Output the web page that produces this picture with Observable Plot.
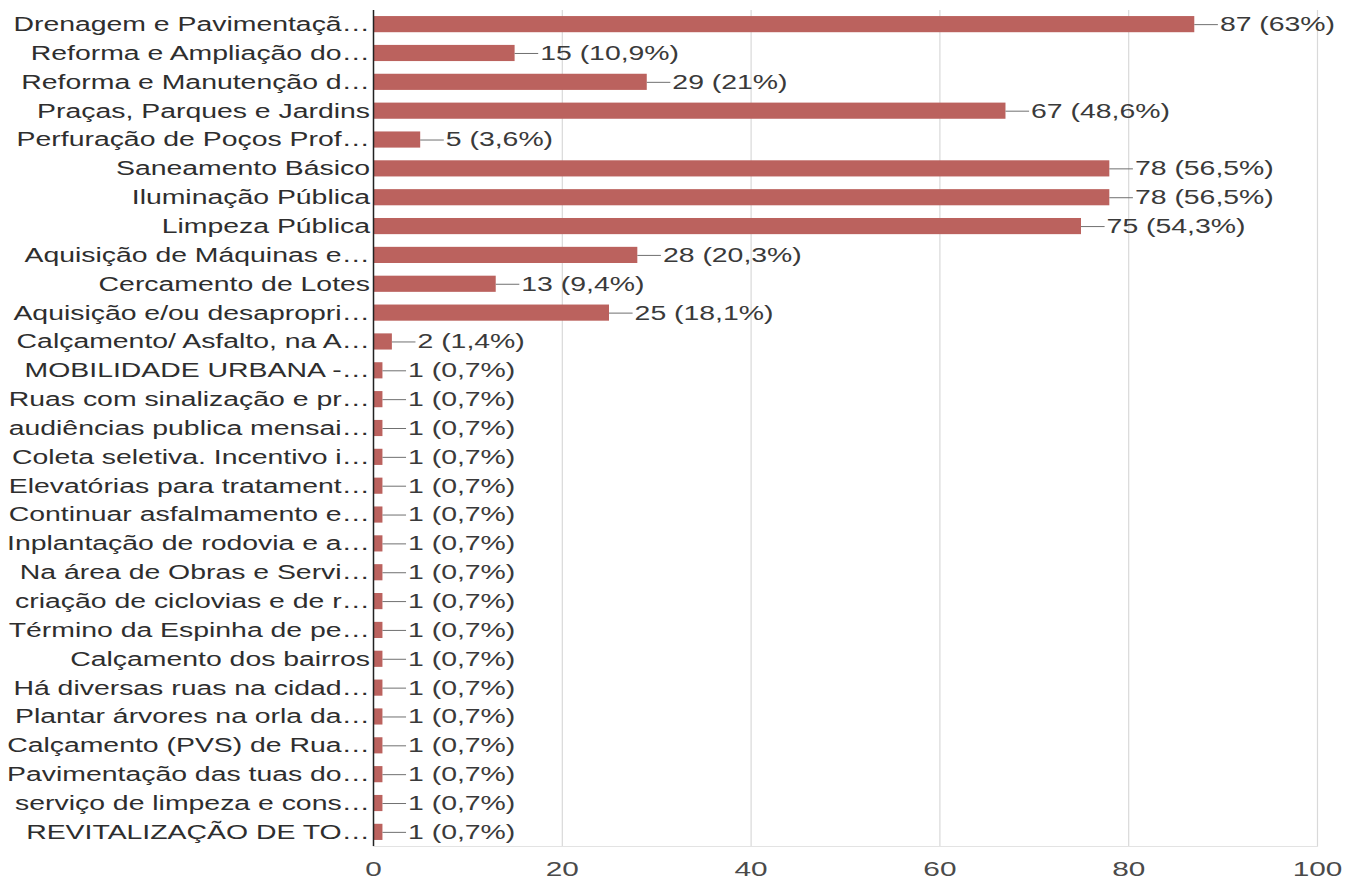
<!DOCTYPE html>
<html><head><meta charset="utf-8">
<script src="https://cdn.jsdelivr.net/npm/d3@7"></script>
<script src="https://cdn.jsdelivr.net/npm/@observablehq/plot@0.6"></script>
<style>body{margin:0;background:#fff;font-family:"Liberation Sans",Arial,sans-serif}</style>
</head><body><div id="chart"></div>
<script>
const categories = [
  "Drenagem e Pavimentaçã…","Reforma e Ampliação do…","Reforma e Manutenção d…","Praças, Parques e Jardins",
  "Perfuração de Poços Prof…","Saneamento Básico","Iluminação Pública","Limpeza Pública",
  "Aquisição de Máquinas e…","Cercamento de Lotes","Aquisição e/ou desapropri…","Calçamento/ Asfalto, na A…",
  "MOBILIDADE URBANA -…","Ruas com sinalização e pr…","audiências publica mensai…","Coleta seletiva. Incentivo i…",
  "Elevatórias para tratament…","Continuar asfalmamento e…","Inplantação de rodovia e a…","Na área de Obras e Servi…",
  "criação de ciclovias e de r…","Término da Espinha de pe…","Calçamento dos bairros","Há diversas ruas na cidad…",
  "Plantar árvores na orla da…","Calçamento (PVS) de Rua…","Pavimentação das tuas do…","serviço de limpeza e cons…",
  "REVITALIZAÇÃO DE TO…"
];
const counts = [87,15,29,67,5,78,78,75,28,13,25,2,1,1,1,1,1,1,1,1,1,1,1,1,1,1,1,1,1];
const percents = ["63%","10,9%","21%","48,6%","3,6%","56,5%","56,5%","54,3%","20,3%","9,4%","18,1%","1,4%",
  "0,7%","0,7%","0,7%","0,7%","0,7%","0,7%","0,7%","0,7%","0,7%","0,7%","0,7%","0,7%","0,7%","0,7%","0,7%","0,7%","0,7%"];
const xTicks = [0,20,40,60,80,100];

const data = categories.map((c,i)=>({cat:c, v:counts[i], label:`${counts[i]} (${percents[i]})`}));
const leader = 2.5;
const stretch = 1.42;

const chart = Plot.plot({
  width: 1348, height: 884,
  marginLeft: 373, marginRight: 31, marginTop: 10, marginBottom: 38,
  style: {fontFamily: '"Liberation Sans", Arial, sans-serif', background: "#fff"},
  x: {domain: [0,100], ticks: xTicks},
  y: {domain: categories, paddingInner: 0.44, paddingOuter: 0.21, align: 0.5, round: false},
  marks: [
    Plot.gridX(xTicks.slice(1), {stroke: "#d9d9d9", strokeOpacity: 1, strokeWidth: 1.2}),
    Plot.frame({anchor: "bottom", stroke: "#e3e3e3", strokeWidth: 1.2}),
    Plot.barX(data, {y: "cat", x: "v", fill: "#bb625e"}),
    Plot.ruleY(data, {y: "cat", x1: "v", x2: d => d.v + leader, stroke: "#707070", strokeWidth: 1}),
    Plot.text(data, {y: "cat", x: d => d.v + leader, text: "label", textAnchor: "start", dx: 1.5, fontSize: 20, fill: "#3a3a3a"}),
    Plot.ruleX([0], {stroke: "#222", strokeWidth: 1.5}),
    Plot.axisY({tickSize: 0, tickPadding: 3.5, fontSize: 20, fill: "#2e2e2e", label: null}),
    Plot.axisX({ticks: xTicks, tickSize: 0, tickPadding: 15, fontSize: 21, fill: "#4a4a4a", label: null})
  ]
});
chart.querySelectorAll("text").forEach(t => {
  const tr = t.getAttribute("transform");
  if (tr) t.setAttribute("transform", tr + ` scale(${stretch},1)`);
});
document.getElementById("chart").append(chart);
</script></body></html>
